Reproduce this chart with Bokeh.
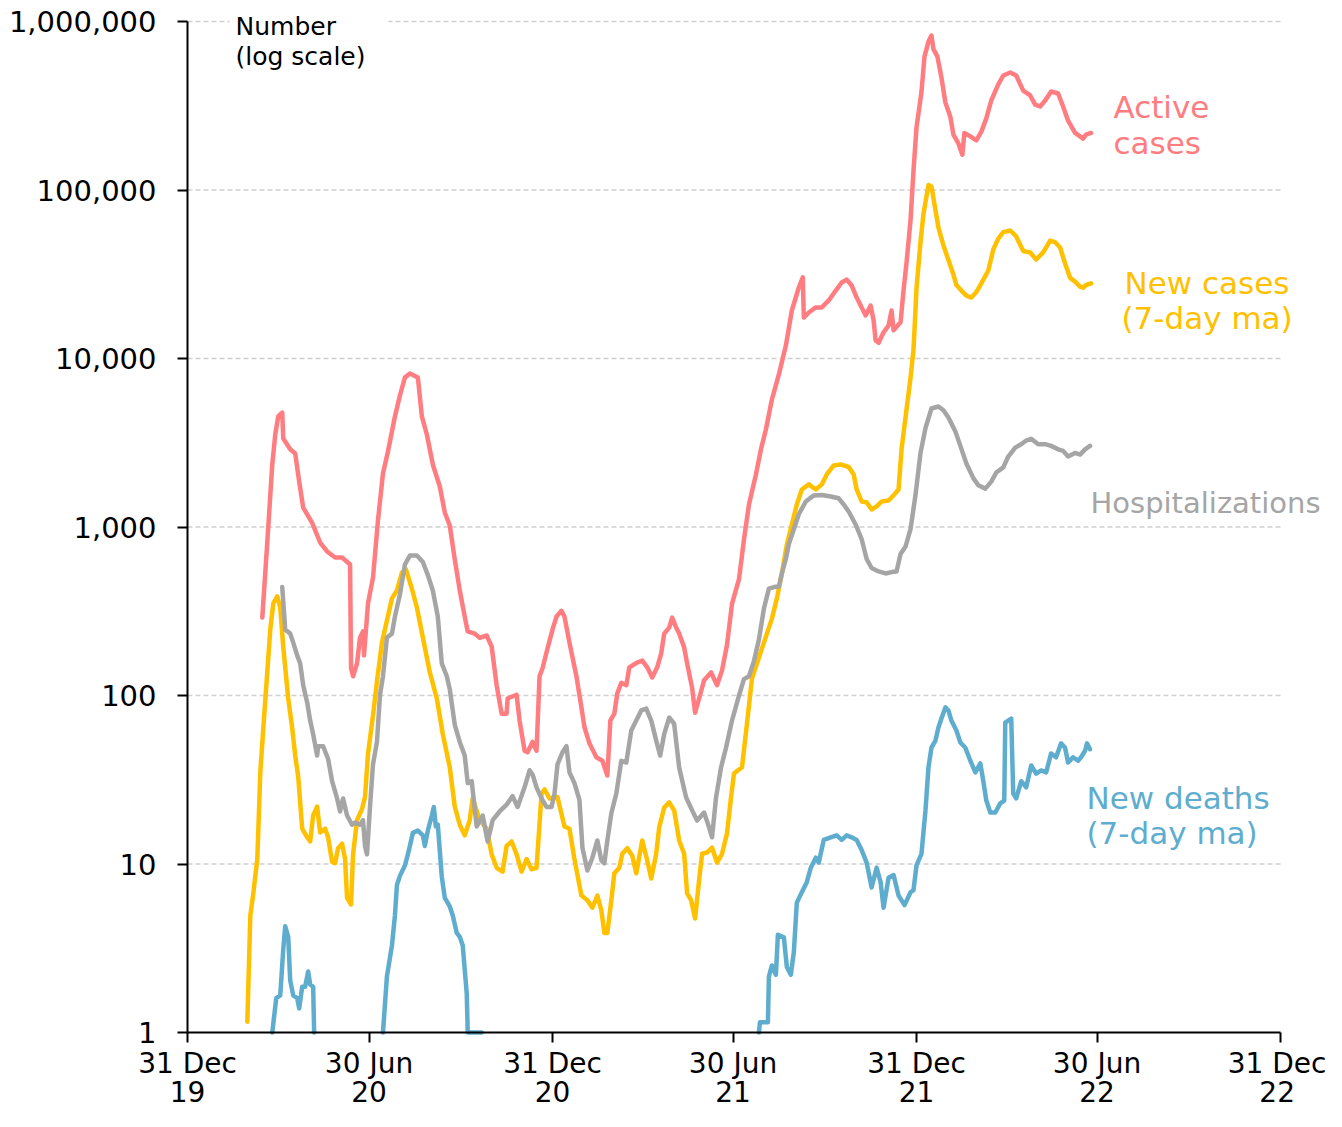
import pandas as pd
from bokeh.plotting import figure
from bokeh.models import FixedTicker, NumeralTickFormatter, Label, Range1d, BoxAnnotation
from bokeh.embed import file_html
from bokeh.resources import INLINE

# ---------------- data ----------------
active_dates = ["2020-03-15","2020-03-20","2020-03-25","2020-03-28","2020-03-31","2020-04-04","2020-04-05","2020-04-12","2020-04-17","2020-04-21","2020-04-25","2020-05-04","2020-05-12","2020-05-19","2020-05-27","2020-06-03","2020-06-11","2020-06-12","2020-06-14","2020-06-18","2020-06-21","2020-06-24","2020-06-25","2020-06-29","2020-07-04","2020-07-09","2020-07-14","2020-07-19","2020-07-26","2020-07-31","2020-08-05","2020-08-10","2020-08-18","2020-08-22","2020-08-27","2020-09-02","2020-09-09","2020-09-14","2020-09-19","2020-09-24","2020-09-29","2020-10-04","2020-10-07","2020-10-14","2020-10-19","2020-10-26","2020-10-31","2020-11-05","2020-11-10","2020-11-15","2020-11-16","2020-11-25","2020-11-28","2020-12-03","2020-12-06","2020-12-11","2020-12-15","2020-12-18","2020-12-21","2020-12-26","2020-12-31","2021-01-04","2021-01-09","2021-01-12","2021-01-17","2021-01-24","2021-01-29","2021-02-01","2021-02-06","2021-02-13","2021-02-19","2021-02-24","2021-02-27","2021-03-03","2021-03-06","2021-03-10","2021-03-15","2021-03-18","2021-03-26","2021-03-31","2021-04-05","2021-04-10","2021-04-15","2021-04-19","2021-04-22","2021-04-27","2021-04-30","2021-05-04","2021-05-07","2021-05-12","2021-05-15","2021-05-20","2021-05-23","2021-05-27","2021-06-01","2021-06-08","2021-06-14","2021-06-19","2021-06-24","2021-06-29","2021-07-06","2021-07-11","2021-07-16","2021-07-23","2021-07-28","2021-08-02","2021-08-08","2021-08-15","2021-08-22","2021-08-28","2021-09-04","2021-09-08","2021-09-09","2021-09-14","2021-09-21","2021-09-27","2021-10-04","2021-10-11","2021-10-17","2021-10-22","2021-10-27","2021-11-01","2021-11-06","2021-11-10","2021-11-15","2021-11-18","2021-11-20","2021-11-23","2021-11-28","2021-12-03","2021-12-06","2021-12-08","2021-12-15","2021-12-18","2021-12-21","2021-12-25","2021-12-28","2021-12-31","2022-01-05","2022-01-08","2022-01-12","2022-01-15","2022-01-17","2022-01-21","2022-01-25","2022-01-29","2022-02-03","2022-02-06","2022-02-11","2022-02-15","2022-02-17","2022-02-23","2022-03-01","2022-03-06","2022-03-11","2022-03-16","2022-03-23","2022-03-28","2022-04-04","2022-04-10","2022-04-17","2022-04-24","2022-04-29","2022-05-04","2022-05-09","2022-05-15","2022-05-22","2022-05-27","2022-06-01","2022-06-08","2022-06-13","2022-06-16","2022-06-19","2022-06-24"]
active_cases = [290,810,2350,3540,4530,4780,3350,2890,2730,1860,1305,1057,809,716,659,659,599,145,130,155,221,240,173,352,501,1093,2080,2806,4530,6030,7710,8150,7710,4530,3540,2350,1740,1220,1020,641,420,294,240,233,220,227,195,115,78,78,96,101,71,47,46,53,47,130,145,190,246,294,318,294,206,130,85,65,52,43,41,33.5,71,78,103,119,115,147,157,161,147,128,147,178,233,253,290,253,233,193,155,111,79,96,123,137,115,141,200,350,490,843,1360,2050,2890,3790,5710,8040,11940,19270,26400,30270,17500,18750,20100,20100,22100,25300,28250,29400,27100,23000,20100,18000,20600,16800,12800,12400,14300,15700,19270,14700,16400,25300,37000,65900,130600,235000,382000,619000,760000,826000,686000,619000,465000,330000,271000,213000,189000,162000,218000,208000,197000,222000,266000,340000,423000,478000,498000,478000,389000,364000,321000,313000,340000,384000,374000,313000,258000,218000,208000,202000,213000,218000]

newcase_dates = ["2020-02-29","2020-03-03","2020-03-06","2020-03-10","2020-03-13","2020-03-16","2020-03-20","2020-03-23","2020-03-26","2020-03-30","2020-04-02","2020-04-05","2020-04-10","2020-04-14","2020-04-17","2020-04-20","2020-04-24","2020-04-29","2020-05-02","2020-05-05","2020-05-09","2020-05-12","2020-05-17","2020-05-20","2020-05-24","2020-05-27","2020-05-30","2020-06-03","2020-06-06","2020-06-08","2020-06-12","2020-06-14","2020-06-18","2020-06-23","2020-06-26","2020-06-29","2020-07-04","2020-07-08","2020-07-13","2020-07-18","2020-07-23","2020-07-28","2020-08-02","2020-08-06","2020-08-12","2020-08-17","2020-08-23","2020-08-30","2020-09-06","2020-09-12","2020-09-19","2020-09-24","2020-09-29","2020-10-04","2020-10-09","2020-10-12","2020-10-19","2020-10-26","2020-10-31","2020-11-05","2020-11-11","2020-11-15","2020-11-20","2020-11-25","2020-11-30","2020-12-05","2020-12-10","2020-12-15","2020-12-20","2020-12-23","2020-12-28","2021-01-05","2021-01-12","2021-01-17","2021-01-22","2021-01-29","2021-02-04","2021-02-09","2021-02-14","2021-02-18","2021-02-21","2021-02-24","2021-02-28","2021-03-03","2021-03-08","2021-03-11","2021-03-16","2021-03-21","2021-03-25","2021-03-31","2021-04-05","2021-04-09","2021-04-14","2021-04-17","2021-04-22","2021-04-27","2021-05-02","2021-05-07","2021-05-12","2021-05-15","2021-05-19","2021-05-23","2021-05-27","2021-05-30","2021-06-04","2021-06-09","2021-06-14","2021-06-19","2021-06-24","2021-06-28","2021-07-01","2021-07-05","2021-07-09","2021-07-14","2021-07-19","2021-07-24","2021-07-29","2021-08-03","2021-08-08","2021-08-13","2021-08-18","2021-08-23","2021-08-28","2021-09-02","2021-09-07","2021-09-14","2021-09-21","2021-09-27","2021-10-02","2021-10-09","2021-10-16","2021-10-24","2021-10-29","2021-11-01","2021-11-06","2021-11-11","2021-11-16","2021-11-21","2021-11-26","2021-12-03","2021-12-08","2021-12-13","2021-12-16","2021-12-21","2021-12-25","2021-12-28","2021-12-31","2022-01-04","2022-01-07","2022-01-12","2022-01-15","2022-01-19","2022-01-22","2022-01-27","2022-02-01","2022-02-06","2022-02-09","2022-02-14","2022-02-19","2022-02-24","2022-03-01","2022-03-06","2022-03-13","2022-03-18","2022-03-23","2022-03-28","2022-04-04","2022-04-10","2022-04-17","2022-04-24","2022-04-30","2022-05-07","2022-05-14","2022-05-19","2022-05-24","2022-05-29","2022-06-03","2022-06-08","2022-06-13","2022-06-16","2022-06-19","2022-06-24"]
new_cases = [1.16,4.95,6.7,10.7,34.9,63.7,137,246,352,387,333,195,96,64,44,33,16.2,14.4,13.6,19.4,21.9,15.4,16.2,14.4,10.3,10.1,12.4,13.2,10.7,6.3,5.75,11.4,18.2,21.2,25,45,76,121,206,279,377,420,537,560,430,333,221,137,96,59,37.4,21.9,17.1,14.8,18.2,24.5,18.2,16.2,11.4,9.5,9.0,12.8,13.6,11.4,9.0,10.7,9.3,9.5,26,27.7,24.5,25,16.7,16.2,10.7,6.5,6.1,5.5,6.5,5.3,3.9,3.9,6.1,8.8,9.5,11.5,12.4,11.2,8.8,13.8,10.5,8.2,11.5,16.5,21.6,23.2,20.8,13.8,11.5,6.7,6.1,4.75,8.0,11.5,11.7,12.5,10.2,11.5,15.2,24.8,34.4,36,37.4,68,126,155,190,233,286,377,530,787,1035,1360,1670,1790,1670,1790,2050,2320,2350,2270,2050,1670,1417,1400,1270,1325,1417,1436,1540,1670,2890,4980,7660,11300,26000,49000,72500,107000,105000,76000,59800,46900,38400,31500,27300,25300,23600,23000,24800,27900,33300,44400,51500,56200,57500,53000,43400,42600,38700,42600,50100,49000,45600,36600,30100,28600,26700,26300,27300,27900]

hosp_dates = ["2020-04-04","2020-04-06","2020-04-07","2020-04-12","2020-04-15","2020-04-19","2020-04-22","2020-04-25","2020-04-29","2020-05-02","2020-05-05","2020-05-09","2020-05-10","2020-05-15","2020-05-20","2020-05-24","2020-05-29","2020-06-01","2020-06-04","2020-06-08","2020-06-13","2020-06-16","2020-06-21","2020-06-24","2020-06-26","2020-06-28","2020-07-01","2020-07-04","2020-07-08","2020-07-11","2020-07-14","2020-07-18","2020-07-23","2020-07-26","2020-07-31","2020-08-05","2020-08-10","2020-08-17","2020-08-23","2020-08-28","2020-09-02","2020-09-07","2020-09-11","2020-09-16","2020-09-19","2020-09-24","2020-09-29","2020-10-04","2020-10-07","2020-10-11","2020-10-16","2020-10-22","2020-10-27","2020-11-01","2020-11-08","2020-11-15","2020-11-21","2020-11-26","2020-12-03","2020-12-08","2020-12-11","2020-12-15","2020-12-20","2020-12-25","2020-12-30","2021-01-02","2021-01-05","2021-01-10","2021-01-14","2021-01-17","2021-01-22","2021-01-27","2021-01-30","2021-02-04","2021-02-09","2021-02-14","2021-02-18","2021-02-21","2021-02-24","2021-02-28","2021-03-05","2021-03-10","2021-03-15","2021-03-20","2021-03-25","2021-03-30","2021-04-04","2021-04-09","2021-04-14","2021-04-18","2021-04-22","2021-04-27","2021-05-02","2021-05-07","2021-05-14","2021-05-20","2021-05-25","2021-06-01","2021-06-06","2021-06-09","2021-06-13","2021-06-18","2021-06-23","2021-06-29","2021-07-06","2021-07-11","2021-07-16","2021-07-21","2021-07-26","2021-07-31","2021-08-05","2021-08-10","2021-08-15","2021-08-18","2021-08-22","2021-08-25","2021-08-30","2021-09-04","2021-09-11","2021-09-19","2021-09-27","2021-10-06","2021-10-14","2021-10-19","2021-10-24","2021-10-31","2021-11-06","2021-11-11","2021-11-16","2021-11-23","2021-11-30","2021-12-06","2021-12-11","2021-12-15","2021-12-20","2021-12-25","2021-12-30","2022-01-04","2022-01-09","2022-01-15","2022-01-22","2022-01-27","2022-02-01","2022-02-08","2022-02-13","2022-02-19","2022-02-26","2022-03-03","2022-03-10","2022-03-16","2022-03-21","2022-03-28","2022-04-02","2022-04-09","2022-04-15","2022-04-20","2022-04-25","2022-05-02","2022-05-09","2022-05-15","2022-05-22","2022-05-27","2022-06-01","2022-06-08","2022-06-13","2022-06-18","2022-06-23"]
hospitalizations = [440,300,246,233,206,173,155,115,91,71,59,44,50,50,42,31,24.5,20.5,24.5,19.4,17.1,17.6,17.1,18.2,12.8,11.4,21.8,39,53,101,130,221,233,294,397,599,677,677,620,518,420,294,155,130,109,67,53,44,30.2,31,16.7,19.4,13.6,18.2,20.5,22.5,25.3,21.8,28.5,36,34,28.5,24.5,21.8,21.8,26,39,46,50,35,30.2,24,12.5,9.15,10.9,13.8,10.5,10.1,13.8,20,26.2,41,40,62,71,81.5,83.6,71,54,44,59,74,68,37.4,24.8,20.8,18.1,20.2,16.5,14.4,24.8,37.4,49,71,100,125,130,160,215,328,431,440,443,530,646,792,970,1190,1417,1540,1550,1518,1480,1360,1236,1035,848,646,571,545,530,540,545,692,765,970,1550,2746,3860,5050,5190,4930,4470,3690,3030,2380,1950,1770,1690,1860,2105,2260,2620,2960,3100,3260,3340,3100,3100,3030,2890,2830,2620,2750,2690,2890,3030]

NAN = float("nan")   # gaps: days with no deaths cannot be shown on a log scale
death_dates = ["2020-03-25","2020-03-29","2020-04-02","2020-04-05","2020-04-07","2020-04-10","2020-04-12","2020-04-15","2020-04-19","2020-04-21","2020-04-24","2020-04-27","2020-04-30","2020-05-02","2020-05-05","2020-05-06","2020-06-01","2020-07-14","2020-07-18","2020-07-23","2020-07-26","2020-07-28","2020-07-31","2020-08-05","2020-08-08","2020-08-13","2020-08-18","2020-08-23","2020-08-25","2020-08-28","2020-09-01","2020-09-03","2020-09-05","2020-09-07","2020-09-11","2020-09-14","2020-09-19","2020-09-22","2020-09-26","2020-09-29","2020-10-02","2020-10-06","2020-10-07","2020-10-21","2021-01-01","2021-07-26","2021-07-27","2021-08-04","2021-08-05","2021-08-08","2021-08-12","2021-08-14","2021-08-20","2021-08-23","2021-08-27","2021-08-30","2021-09-02","2021-09-07","2021-09-12","2021-09-16","2021-09-21","2021-09-24","2021-09-29","2021-10-06","2021-10-12","2021-10-17","2021-10-22","2021-10-27","2021-11-01","2021-11-06","2021-11-11","2021-11-16","2021-11-21","2021-11-25","2021-11-28","2021-12-03","2021-12-08","2021-12-13","2021-12-19","2021-12-25","2021-12-28","2021-12-31","2022-01-05","2022-01-09","2022-01-12","2022-01-15","2022-01-19","2022-01-22","2022-01-25","2022-01-29","2022-02-01","2022-02-04","2022-02-09","2022-02-13","2022-02-18","2022-02-23","2022-02-28","2022-03-05","2022-03-08","2022-03-11","2022-03-15","2022-03-20","2022-03-25","2022-03-29","2022-03-30","2022-04-05","2022-04-07","2022-04-10","2022-04-15","2022-04-20","2022-04-25","2022-04-30","2022-05-05","2022-05-10","2022-05-15","2022-05-20","2022-05-25","2022-05-29","2022-06-01","2022-06-06","2022-06-11","2022-06-14","2022-06-18","2022-06-20","2022-06-23"]
new_deaths = [1,1.6,1.66,3.1,4.27,3.69,2.04,1.66,1.6,1.39,1.87,1.87,2.3,1.93,1.87,1,NAN,1,2.16,3.28,4.95,7.5,8.5,9.8,11.4,15.3,15.8,14.8,12.8,15.8,19.4,21.8,16.7,17.1,8.4,6.3,5.6,4.95,3.9,3.7,3.28,1.7,1,1,NAN,1,1.15,1.15,2.15,2.5,2.2,3.8,3.67,2.45,2.2,3.0,5.9,6.8,7.8,9.5,10.9,10.2,13.9,14.4,14.8,13.9,14.8,14.4,13.9,12.1,10.2,7.25,9.5,7.8,5.5,8.3,8.6,6.5,5.7,6.8,7.0,9.8,11.5,20.8,37.4,49,54,64.6,73,85,81.5,71,62,52.6,49,41,35,39.5,31,23.8,20.2,20.2,22.9,23.8,69,73,26.2,24.5,31,28.5,38.4,34.4,35.9,35,45.3,43,52,49,40,43,41,43,47,52,48]

tick_dates = ["2019-12-31","2020-06-30","2020-12-31","2021-06-30","2021-12-31","2022-06-30","2022-12-31"]
tick_labels = ["31 Dec\n19","30 Jun\n20","31 Dec\n20","30 Jun\n21","31 Dec\n21","30 Jun\n22","31 Dec\n22"]
y_ticks = [1, 10, 100, 1000, 10000, 100000, 1000000]

RED, YELLOW, GREY, BLUE = "#FF7C80", "#FFC000", "#A5A5A5", "#5EADCF"
FONT = "DejaVu Sans"

# ---------------- layout geometry (pixels) ----------------
W, H = 1326, 1111
FRAME_L, TICK_R, AXIS_Y = 187, 1280, 1032     # x of first/last tick, y of the x axis
PX_DECADE = 168.5
T0, T1 = pd.Timestamp(tick_dates[0]), pd.Timestamp(tick_dates[-1])
DAYS = (T1 - T0).days

def xpos(px):
    return T0 + pd.Timedelta(days=(px - FRAME_L) * DAYS / (TICK_R - FRAME_L))

def ypos(py):
    return 10 ** ((AXIS_Y - py) / PX_DECADE)

def ms(d):
    return int(pd.Timestamp(d).value // 10**6)

# the plotting frame covers the whole canvas; both axes sit at fixed data locations
p = figure(width=W, height=H, x_axis_type="datetime", y_axis_type="log",
           output_backend="svg", toolbar_location=None,
           x_range=Range1d(xpos(0), xpos(W)),
           y_range=Range1d(ypos(H), ypos(0)),
           min_border_left=0, min_border_right=0, min_border_top=0,
           min_border_bottom=0)
p.outline_line_color = None
p.background_fill_color = "white"
p.border_fill_color = "white"
p.xgrid.visible = False
p.ygrid.visible = False

# dashed horizontal gridlines, spanning the dated axis only
p.segment(x0=[T0] * (len(y_ticks) - 1), x1=[T1] * (len(y_ticks) - 1),
          y0=y_ticks[1:], y1=y_ticks[1:], line_color="#D0D0D0",
          line_width=1.5, line_dash="5 3")

# axes
x_ticks = [ms(d) for d in tick_dates]
p.yaxis.ticker = FixedTicker(ticks=y_ticks, minor_ticks=[])
p.yaxis.formatter = NumeralTickFormatter(format="0,0")
p.yaxis.bounds = (y_ticks[0], y_ticks[-1])
p.yaxis.fixed_location = x_ticks[0]
p.xaxis.ticker = FixedTicker(ticks=x_ticks, minor_ticks=[])
p.xaxis.major_label_overrides = {t: lab for t, lab in zip(x_ticks, tick_labels)}
p.xaxis.bounds = (x_ticks[0], x_ticks[-1])
p.xaxis.fixed_location = y_ticks[0]

for ax in (p.xaxis, p.yaxis):
    ax.axis_line_color = "black"
    ax.axis_line_width = 2
    ax.major_tick_line_color = "black"
    ax.major_tick_line_width = 2
    ax.major_tick_in = 0
    ax.major_tick_out = 10
    ax.minor_tick_line_color = None
    ax.major_label_text_font = FONT
    ax.major_label_text_color = "black"
p.yaxis.major_label_text_font_size = "29px"
p.xaxis.major_label_text_font_size = "28px"
p.yaxis.major_label_standoff = 21
p.xaxis.major_label_standoff = 4
p.xaxis.major_label_text_line_height = 0.9

series = [
    (active_dates, active_cases, RED),
    (newcase_dates, new_cases, YELLOW),
    (hosp_dates, hospitalizations, GREY),
    (death_dates, new_deaths, BLUE),
]
for dates, vals, col in series:
    p.line(pd.to_datetime(dates), vals, line_color=col, line_width=4.5,
           line_join="round", line_cap="round")

# white box behind the y-axis title (interrupts the top gridline)
p.add_layout(BoxAnnotation(left=ms(xpos(229)), right=ms(xpos(388)),
                           bottom=ypos(30), top=ypos(13),
                           fill_color="white", fill_alpha=1, line_color=None))

def lab(text, px, baseline, color, size=31):
    p.add_layout(Label(x=xpos(px), y=ypos(baseline - 0.35 * size), text=text,
                       text_font=FONT, text_font_size=f"{size}px", text_color=color,
                       text_baseline="middle", text_align="left"))

lab("Number", 235, 35, "black", 25)
lab("(log scale)", 235, 65, "black", 25)
lab("Active", 1113, 117, RED)
lab("cases", 1113, 153, RED)
lab("New cases", 1124, 293, YELLOW)
lab("(7-day ma)", 1121, 328, YELLOW)
lab("Hospitalizations", 1090, 513, GREY, 29)
lab("New deaths", 1086, 808, BLUE)
lab("(7-day ma)", 1086, 843, BLUE)

open("out.html", "w").write(file_html(p, INLINE))
